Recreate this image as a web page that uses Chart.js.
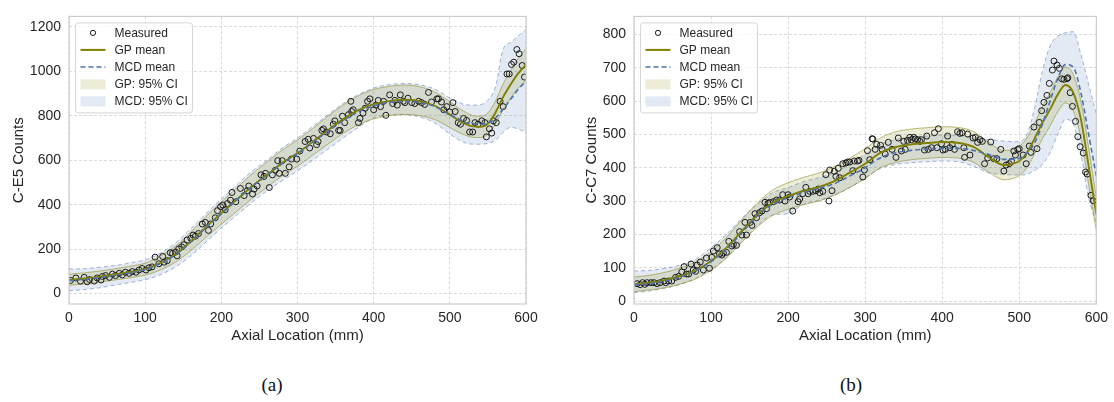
<!DOCTYPE html>
<html>
<head>
<meta charset="utf-8">
<script src="https://cdn.jsdelivr.net/npm/chart.js@4.4.1/dist/chart.umd.min.js"></script>
<style>
  body { margin: 0; background: #fff; width: 1114px; height: 402px; position: relative; overflow: hidden; }
  canvas { position: absolute; top: 0; }
  #chart_a { left: 0; }
  #chart_b { left: 557px; }
  .caption { position: absolute; top: 374px; font-family: "Liberation Serif", "Times New Roman", serif; font-size: 19px; color: #111; transform: translateX(-50%); }
</style>
</head>
<body>
<canvas id="chart_a" width="557" height="350"></canvas>
<canvas id="chart_b" width="557" height="350"></canvas>
<div class="caption" style="left:272px">(a)</div>
<div class="caption" style="left:851px">(b)</div>
<script>
// TICKS AND LABELS

const x_ticks = [0, 100, 200, 300, 400, 500, 600];
const e5_y_ticks = [0, 200, 400, 600, 800, 1000, 1200];
const c7_y_ticks = [0, 100, 200, 300, 400, 500, 600, 700, 800];
const legend_labels = ["Measured", "GP mean", "MCD mean", "GP: 95% CI", "MCD: 95% CI"];

// C-E5 FITTED CURVES

const e5_curve_x = [0, 20, 40, 60, 80, 100, 120, 140, 160, 180, 200, 220, 240, 260, 280, 300, 320, 340, 360, 380, 400, 420, 440, 460, 480,
	500, 510, 520, 530, 540, 550, 560, 570, 580, 590, 600];
const e5_gp_mean = [62, 68, 76, 86, 97, 110, 138, 178, 235, 300, 362, 422, 482, 535, 588, 632, 683, 735, 785, 825, 852, 866, 872, 866, 845,
	805, 783, 765, 752, 750, 765, 815, 885, 942, 992, 1030];
const e5_gp_lo = [37, 43, 51, 61, 71, 83, 106, 142, 193, 253, 312, 369, 427, 478, 530, 573, 623, 672, 721, 760, 786, 800, 806, 801, 783,
	747, 728, 713, 703, 702, 717, 763, 827, 880, 925, 958];
const e5_gp_hi = [87, 93, 101, 111, 123, 137, 170, 214, 277, 347, 412, 475, 537, 592, 646, 691, 743, 798, 849, 890, 918, 932, 938, 931, 907,
	863, 838, 817, 801, 798, 813, 867, 943, 1004, 1059, 1102];
const e5_mcd_mean = [58, 64, 72, 82, 94, 108, 135, 175, 232, 297, 358, 420, 480, 532, 585, 628, 680, 730, 778, 818, 845, 860, 865, 860, 842,
	805, 788, 770, 765, 762, 768, 790, 830, 875, 920, 955];
const e5_mcd_lo = [12, 18, 26, 38, 50, 62, 85, 120, 170, 232, 295, 352, 410, 462, 508, 552, 600, 650, 700, 748, 790, 802, 805, 795, 768,
	718, 695, 678, 672, 672, 676, 690, 725, 748, 740, 725];
const e5_mcd_hi = [110, 112, 118, 126, 138, 152, 182, 228, 292, 360, 425, 488, 550, 600, 655, 700, 752, 805, 855, 895, 925, 940, 945, 940, 920,
	880, 865, 850, 848, 850, 870, 930, 1100, 1130, 1160, 1188];

// C-E5 MEASURED COUNTS

const e5_meas_x = [2, 9, 15, 20, 24, 27, 33, 37, 42, 44, 48, 53, 57, 61, 66, 70, 74, 79, 83, 88, 92, 96, 101, 105, 109, 113, 118, 123, 125, 129,
	133, 136, 140, 142, 144, 148, 151, 155, 160, 163, 166, 170, 175, 179, 183, 186, 192, 195, 199, 202, 205, 208, 212, 214, 219, 225, 230, 234,
	236, 241, 243, 247, 252, 256, 258, 263, 267, 271, 274, 276, 280, 284, 289,
	292, 299, 303, 310, 314, 316, 321, 325, 327, 332, 334, 338, 343, 347, 349, 354, 356, 359, 362, 367, 370, 371, 373, 380, 382, 386, 389, 392,
	395, 400, 403, 406, 409, 413, 416, 421, 425, 428, 431, 435, 439, 441, 445, 450, 454, 459, 463, 467, 472, 476, 483, 485, 489, 492, 496, 500,
	504, 507, 511, 514, 518, 522, 526, 530, 533, 537, 542, 546, 548, 552, 555, 557, 561, 566, 570, 575, 578, 581, 584, 588, 591, 595, 598];
const e5_meas_y = [59, 70, 56, 73, 53, 63, 56, 70, 61, 77, 81, 73, 87, 81, 91, 84, 96, 91, 99, 96, 106, 113, 106, 116, 120, 164, 134, 167, 141, 148,
	184, 181, 187, 170, 201, 210, 220, 241, 248, 263, 258, 270, 313, 320, 284, 313, 341, 373, 391, 398, 377, 405, 420, 455, 413, 473, 441, 463,
	484, 448, 470, 484, 534, 527, 541, 477, 534, 555, 598, 541, 598, 541, 570,
	605, 605, 641, 684, 694, 655, 698, 670, 684, 734, 741, 727, 719, 762, 777, 734, 734, 798, 769, 805, 865, 819, 827, 769, 788, 812, 834, 865,
	876, 827, 848, 869, 841, 865, 802, 894, 855, 869, 848, 894, 865, 859, 879, 859, 855, 865, 859, 851, 905, 862, 876, 876, 862, 827, 841, 817,
	859, 819, 769, 762, 788, 779, 727, 727, 769, 762, 777, 769, 705, 741, 722, 777, 769, 865, 841, 988, 988, 1031, 1041, 1098, 1079, 1026, 974];

// C-C7 FITTED CURVES

const c7_curve_x = [0, 20, 40, 60, 80, 100, 120, 140, 160, 180, 200, 220, 240, 260, 280, 300, 320, 340, 360, 380, 400, 420, 440, 460, 480,
	500, 510, 520, 530, 540, 550, 560, 570, 580, 590, 600];
const c7_gp_mean = [50, 55, 63, 75, 92, 120, 160, 210, 258, 295, 315, 330, 342, 360, 385, 412, 445, 462, 470, 474, 477, 475, 463, 432, 408,
	420, 445, 488, 535, 575, 620, 648, 625, 545, 405, 260];
const c7_gp_lo = [28, 33, 40, 51, 66, 92, 129, 176, 222, 257, 275, 289, 300, 317, 341, 367, 400, 416, 424, 428, 431, 429, 417, 387, 364,
	376, 400, 442, 487, 525, 568, 594, 570, 490, 350, 210];
const c7_gp_hi = [72, 77, 86, 99, 118, 148, 191, 244, 294, 333, 355, 371, 384, 403, 429, 457, 490, 508, 516, 520, 523, 521, 509, 477, 452,
	464, 490, 534, 583, 625, 672, 702, 680, 600, 460, 310];
const c7_mcd_mean = [48, 52, 60, 72, 90, 118, 155, 205, 255, 290, 310, 325, 338, 352, 375, 400, 430, 445, 452, 456, 458, 458, 452, 440, 425,
	428, 445, 475, 530, 600, 668, 710, 702, 625, 500, 375];
const c7_mcd_lo = [25, 30, 38, 50, 68, 95, 130, 178, 225, 258, 262, 290, 302, 318, 340, 370, 398, 410, 415, 418, 420, 418, 405, 385, 380,
	378, 380, 392, 410, 445, 500, 545, 530, 440, 310, 235];
const c7_mcd_hi = [90, 92, 98, 108, 125, 160, 200, 248, 290, 325, 340, 358, 370, 385, 410, 440, 470, 485, 492, 495, 498, 497, 490, 485, 480,
	478, 500, 580, 690, 765, 795, 805, 808, 740, 650, 560];

// C-C7 MEASURED COUNTS

const c7_meas_x = [4, 8, 11, 14, 17, 22, 26, 30, 34, 39, 41, 45, 49, 54, 58, 62, 65, 68, 71, 74, 77, 80, 82, 86, 90, 94, 98, 101, 103, 108,
	111, 114, 116, 120, 123, 127, 129, 133, 137, 140, 144, 146, 151, 153, 157, 159, 163, 166, 170, 172, 174, 176, 181, 185, 189, 193, 196, 200,
	202, 206, 213, 215, 219, 223, 226, 228, 232, 236, 239, 241, 245, 249, 253, 254, 257, 260, 262, 265, 267, 271, 275, 277, 280, 284, 286, 290,
	292, 297, 299, 303, 306, 309,
	310, 313, 315, 320, 322, 326, 330, 335, 340, 343, 347, 350, 352, 355, 358, 360, 363, 365, 368, 371, 373, 377, 380, 382, 386, 390, 393, 395,
	399, 401, 404, 407, 410, 413, 416, 420, 423, 426, 428, 429, 433, 436, 440, 443, 446, 449, 452, 455, 459, 463, 467, 471, 476, 480, 483, 487,
	490, 493, 495, 498, 500, 505, 509, 513, 515, 519, 523, 526, 529, 532, 536, 539, 543, 545, 549, 552, 555, 558, 562, 563, 566, 569, 573, 576,
	579, 583, 586, 588, 593, 596];
const c7_meas_y = [52, 49, 55, 50, 55, 55, 55, 52, 55, 60, 55, 60, 60, 71, 74, 87, 103, 81, 81, 111, 93, 89, 108, 117, 93, 129, 98, 131, 150, 160,
	141, 138, 144, 146, 179, 165, 170, 167, 208, 198, 236, 198, 236, 227, 262, 250, 265, 270, 296, 277, 293, 296, 298, 303, 303, 319, 300, 319,
	312, 270, 298, 306, 322, 341, 322, 329, 329, 331, 336, 325, 329, 379, 300, 393, 331, 389, 374, 398, 370, 412, 414, 417, 417, 391, 420, 420,
	422, 372, 393, 451, 424, 487,
	486, 455, 470, 467, 455, 441, 476, 455, 431, 489, 450, 479, 455, 482, 491, 484, 491, 486, 484, 479, 484, 453, 495, 455, 460, 505, 460, 517,
	472, 453, 455, 495, 460, 470, 455, 508, 503, 505, 460, 431, 501, 438, 489, 491, 476, 484, 479, 412, 429, 477, 427, 427, 455, 390, 408, 412,
	419, 450, 438, 455, 457, 438, 412, 465, 446, 522, 457, 536, 571, 596, 617, 653, 693, 720, 708, 698, 667, 665, 667, 670, 625, 584, 539, 493,
	463, 444, 387, 381, 317, 301];

// COLORS

const olive = "#808000";
const olive_fill = "rgba(128,128,0,0.15)";
const olive_edge = "rgba(128,128,0,0.5)";
const blue = "#4c72b0";
const blue_fill = "rgba(76,114,176,0.15)";
const blue_edge = "rgba(76,114,176,0.5)";
const text_color = "#262626";

function toPoints(xs, ys){
	return xs.map((x, i) => ({x: x, y: ys[i]}));
}

// FRAME ROUND THE PLOT AREA

const frame_plugin = {
	id: "frame",
	afterDatasetsDraw(chart){
		const {ctx, chartArea} = chart;
		ctx.save();
		ctx.strokeStyle = "#cccccc";
		ctx.lineWidth = 1.2;
		ctx.strokeRect(chartArea.left, chartArea.top, chartArea.right - chartArea.left, chartArea.bottom - chartArea.top);
		ctx.restore();
	}
};

// LEGEND INSIDE THE TOP LEFT CORNER

const inner_legend = {
	id: "inner_legend",
	afterDraw(chart){
		const {ctx, chartArea} = chart;
		const bx = chartArea.left + 6.5, by = chartArea.top + 6.5, bw = 117, bh = 90;
		ctx.save();
		ctx.beginPath();
		ctx.roundRect(bx, by, bw, bh, 3);
		ctx.fillStyle = "rgba(255,255,255,0.8)";
		ctx.fill();
		ctx.strokeStyle = "#d6d6d6";
		ctx.lineWidth = 1;
		ctx.stroke();

		const hx = bx + 5, hw = 25, tx = bx + 39;
		const rows = [by + 10, by + 27, by + 44, by + 61.5, by + 78.5];

		// measured marker
		ctx.beginPath();
		ctx.arc(hx + hw / 2, rows[0], 2.6, 0, Math.PI * 2);
		ctx.strokeStyle = "#1a1a1a";
		ctx.stroke();

		// gp mean
		ctx.beginPath();
		ctx.moveTo(hx, rows[1]);
		ctx.lineTo(hx + hw, rows[1]);
		ctx.strokeStyle = olive;
		ctx.lineWidth = 2;
		ctx.stroke();

		// mcd mean
		ctx.beginPath();
		ctx.setLineDash([5, 3]);
		ctx.moveTo(hx, rows[2]);
		ctx.lineTo(hx + hw, rows[2]);
		ctx.strokeStyle = blue;
		ctx.lineWidth = 1.5;
		ctx.stroke();
		ctx.setLineDash([]);

		// bands
		ctx.fillStyle = olive_fill;
		ctx.fillRect(hx, rows[3] - 5, hw, 10);
		ctx.fillStyle = blue_fill;
		ctx.fillRect(hx, rows[4] - 5, hw, 10);

		ctx.fillStyle = text_color;
		ctx.font = "12px 'Liberation Sans', Arial, sans-serif";
		ctx.textBaseline = "middle";
		legend_labels.forEach((label, i) => ctx.fillText(label, tx, rows[i] + 0.5));
		ctx.restore();
	}
};

function makeChart(canvas_id, d){
	const tick_font = {family: "'Liberation Sans', Arial, sans-serif", size: 14};
	const title_font = {family: "'Liberation Sans', Arial, sans-serif", size: 15};
	const line_base = {pointRadius: 0, cubicInterpolationMode: "monotone"};

	return new Chart(document.getElementById(canvas_id), {
		type: "line",
		data: {
			datasets: [
				Object.assign({label: "MCD mean", data: toPoints(d.curve_x, d.mcd_mean), borderColor: blue, borderWidth: 1.6, borderDash: [5, 3], fill: false}, line_base),
				Object.assign({label: "GP mean", data: toPoints(d.curve_x, d.gp_mean), borderColor: olive, borderWidth: 1.9, fill: false}, line_base),
				{
					label: "Measured",
					data: toPoints(d.meas_x, d.meas_y),
					showLine: false,
					pointRadius: 3,
					pointBorderWidth: 1,
					pointBorderColor: "#1a1a1a",
					pointBackgroundColor: "rgba(0,0,0,0)"
				},
				Object.assign({label: "GP upper", data: toPoints(d.curve_x, d.gp_hi), borderColor: olive_edge, borderWidth: 1, backgroundColor: olive_fill, fill: "+1"}, line_base),
				Object.assign({label: "GP lower", data: toPoints(d.curve_x, d.gp_lo), borderColor: olive_edge, borderWidth: 1, fill: false}, line_base),
				Object.assign({label: "MCD upper", data: toPoints(d.curve_x, d.mcd_hi), borderColor: blue_edge, borderWidth: 1, borderDash: [4, 3], backgroundColor: blue_fill, fill: "+1"}, line_base),
				Object.assign({label: "MCD lower", data: toPoints(d.curve_x, d.mcd_lo), borderColor: blue_edge, borderWidth: 1, borderDash: [4, 3], fill: false}, line_base)
			]
		},
		options: {
			responsive: false,
			animation: false,
			devicePixelRatio: 1,
			layout: {padding: {top: 3, right: d.pad_right, left: 0, bottom: 0}},
			plugins: {legend: {display: false}, tooltip: {enabled: false}},
			scales: {
				x: {
					type: "linear",
					min: 0,
					max: 600,
					afterBuildTicks: s => { s.ticks = x_ticks.map(v => ({value: v})); },
					afterFit: s => { s.height = 46; },
					ticks: {font: tick_font, color: text_color, padding: 6, maxRotation: 0, autoSkip: false, callback: v => String(v)},
					grid: {color: "#d0d0d0", lineWidth: 0.8, drawTicks: false},
					border: {display: false, dash: [3, 2]},
					title: {display: true, text: "Axial Location (mm)", font: title_font, color: text_color, padding: {top: 0, bottom: 5}}
				},
				y: {
					type: "linear",
					min: d.y_min,
					max: d.y_max,
					afterBuildTicks: s => { s.ticks = d.y_ticks.map(v => ({value: v})); },
					afterFit: s => { s.width = d.axis_width; },
					ticks: {font: tick_font, color: text_color, padding: 8, callback: v => String(v)},
					grid: {color: "#d0d0d0", lineWidth: 0.8, drawTicks: false},
					border: {display: false, dash: [3, 2]},
					title: {display: true, text: d.y_title, font: title_font, color: text_color, padding: {top: d.title_pad, bottom: 0}}
				}
			}
		},
		plugins: [frame_plugin, inner_legend]
	});
}

makeChart("chart_a", {
	curve_x: e5_curve_x, gp_mean: e5_gp_mean, gp_lo: e5_gp_lo, gp_hi: e5_gp_hi,
	mcd_mean: e5_mcd_mean, mcd_lo: e5_mcd_lo, mcd_hi: e5_mcd_hi,
	meas_x: e5_meas_x, meas_y: e5_meas_y,
	y_ticks: e5_y_ticks, y_min: -47, y_max: 1247, y_title: "C-E5 Counts",
	axis_width: 69, pad_right: 31, title_pad: 10
});

makeChart("chart_b", {
	curve_x: c7_curve_x, gp_mean: c7_gp_mean, gp_lo: c7_gp_lo, gp_hi: c7_gp_hi,
	mcd_mean: c7_mcd_mean, mcd_lo: c7_mcd_lo, mcd_hi: c7_mcd_hi,
	meas_x: c7_meas_x, meas_y: c7_meas_y,
	y_ticks: c7_y_ticks, y_min: -9, y_max: 854, y_title: "C-C7 Counts",
	axis_width: 77, pad_right: 15, title_pad: 26
});
</script>
</body>
</html>
